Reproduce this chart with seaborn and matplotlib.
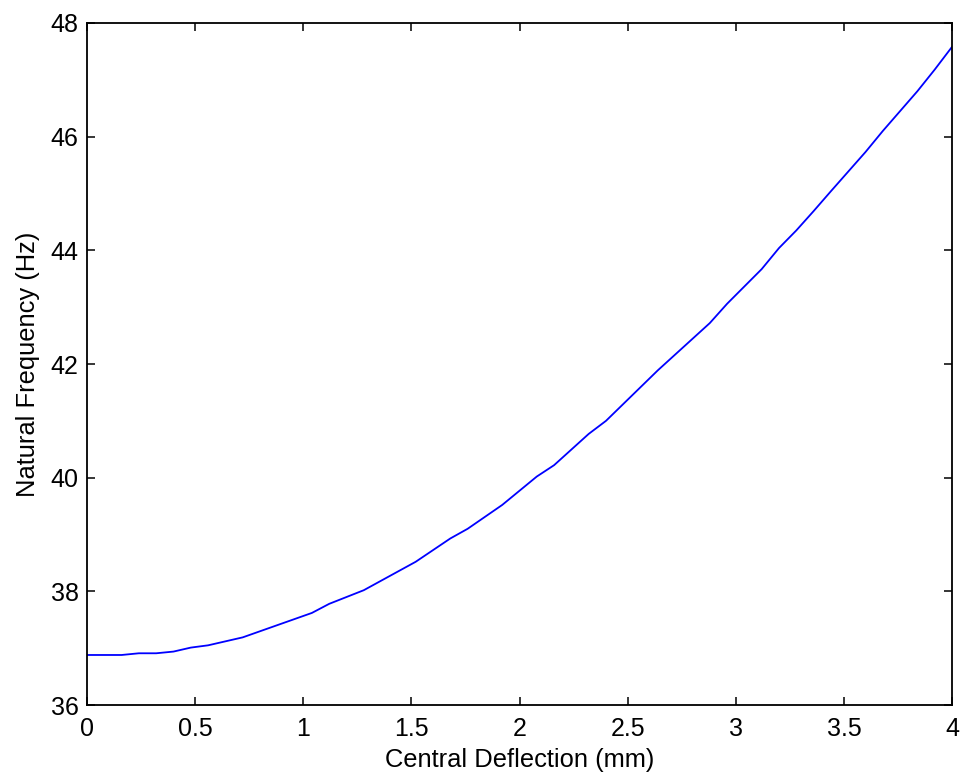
import matplotlib
matplotlib.use("Agg")
import matplotlib.pyplot as plt
import seaborn as sns
import pandas as pd

deflection = [0.00, 0.16, 0.24, 0.32, 0.40, 0.48, 0.56, 0.72, 1.04, 1.12, 1.28,
              1.52, 1.68, 1.76, 1.92, 2.08, 2.16, 2.32, 2.40, 2.64, 2.88, 2.96,
              3.12, 3.20, 3.28, 3.36, 3.44, 3.60, 3.68, 3.84, 3.92, 4.00]
frequency = [36.88, 36.88, 36.91, 36.91, 36.94, 37.01, 37.05, 37.19, 37.62, 37.78, 38.02,
             38.52, 38.93, 39.10, 39.52, 40.02, 40.22, 40.77, 41.00, 41.89, 42.72, 43.06,
             43.67, 44.04, 44.35, 44.69, 45.04, 45.73, 46.10, 46.80, 47.18, 47.58]
xticks = [0, 0.5, 1, 1.5, 2, 2.5, 3, 3.5, 4]
xticklabels = ["0", "0.5", "1", "1.5", "2", "2.5", "3", "3.5", "4"]
yticks = [36, 38, 40, 42, 44, 46, 48]

sns.set_style("ticks")
plt.rcParams['font.family'] = ['Liberation Sans', 'DejaVu Sans']

df = pd.DataFrame({"x": deflection, "y": frequency})

fig = plt.figure(figsize=(9.64, 7.8), dpi=100)
ax = fig.add_axes([87/964, 75/780, (952-87)/964, (705-23)/780])
sns.lineplot(data=df, x="x", y="y", ax=ax, color=(0, 0, 1), linewidth=1.3)

ax.set_xlim(0, 4)
ax.set_ylim(36, 48)
ax.set_xticks(xticks)
ax.set_xticklabels(xticklabels)
ax.set_yticks(yticks)
ax.tick_params(direction="in", length=6, width=1.1, top=True, right=True,
               labelsize=18, colors="black")
ax.tick_params(axis="x", pad=9)
ax.tick_params(axis="y", pad=6)
for s in ax.spines.values():
    s.set_visible(True)
    s.set_linewidth(1.3)
    s.set_color("black")
ax.set_xlabel("Central Deflection (mm)", fontsize=18.4, labelpad=5, color="black")
ax.set_ylabel("Natural Frequency (Hz)", fontsize=18.4, labelpad=8, color="black")

fig.savefig("out.png", dpi=100)
